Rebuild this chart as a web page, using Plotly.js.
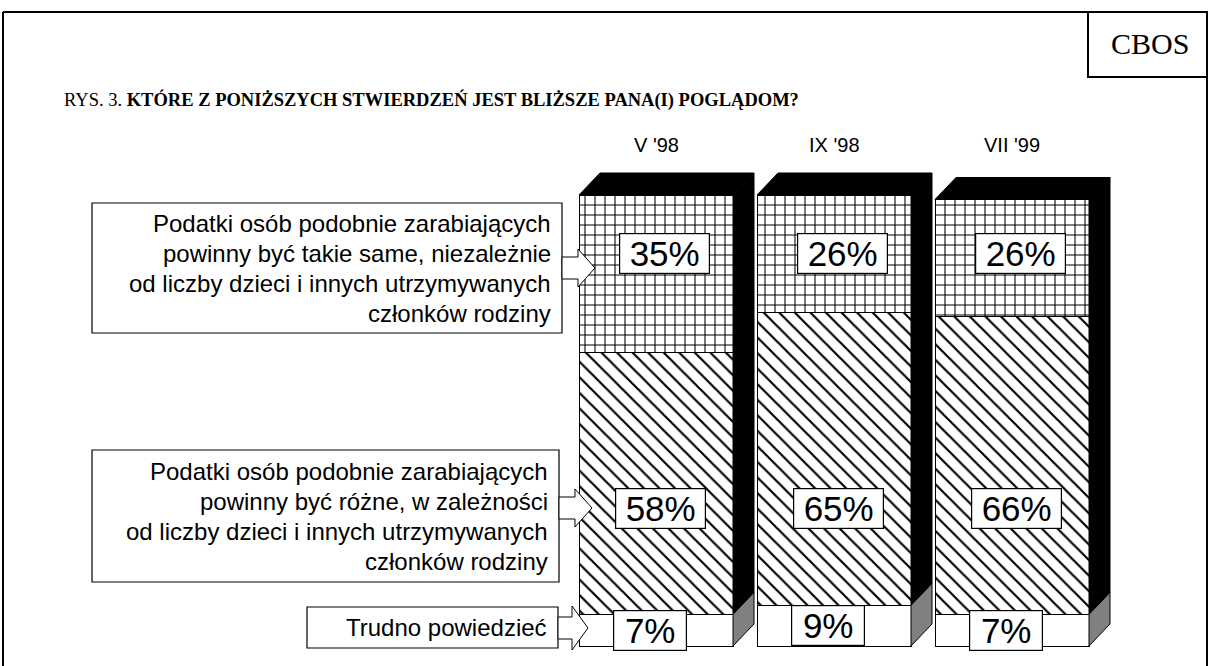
<!DOCTYPE html>
<html><head><meta charset="utf-8">
<script src="https://cdn.plot.ly/plotly-3.0.1.min.js"></script>
<style>html,body{margin:0;padding:0;background:#fff}#chart{width:1208px;height:666px}</style>
</head><body><div id="chart"></div>
<script>
// ---------- data ----------
const categories = ["V '98", "IX '98", "VII '99"];
const sameTax = [35, 26, 26];
const differentTax = [58, 65, 66];
const hardToSay = [7, 9, 7];
const seriesLabels = [
  "Podatki osób podobnie zarabiających<br>powinny być takie same, niezależnie<br>od liczby dzieci i innych utrzymywanych<br>członków rodziny",
  "Podatki osób podobnie zarabiających<br>powinny być różne, w zależności<br>od liczby dzieci i innych utrzymywanych<br>członków rodziny",
  "Trudno powiedzieć"
];
const titleRegular = "RYS. 3. ";
const titleBold = "KTÓRE Z PONIŻSZYCH STWIERDZEŃ JEST BLIŻSZE PANA(I) POGLĄDOM?";
const sourceLabel = "CBOS";

// ---------- geometry (pixels) ----------
const W = 1208, H = 666;
const X0PX = 656, XUNIT = 178;
const Y0PX = 646, YUNIT = 4.51;
const xRange = [-X0PX / XUNIT, (W - X0PX) / XUNIT];
const yRange = [-(H - Y0PX) / YUNIT, Y0PX / YUNIT];
const barW = 154 / XUNIT, dX = 21 / XUNIT, dY = 22 / YUNIT;
const px = v => v / W, py = v => 1 - v / H;
const xs = categories.map((c, i) => i);

const SANS = "Liberation Sans, Arial, sans-serif";
const SERIF = "Liberation Serif, Times New Roman, serif";

const traces = [];
const barBase = { type: 'bar', x: xs, width: barW, hoverinfo: 'skip', showlegend: false };
traces.push(Object.assign({}, barBase, { y: hardToSay, name: seriesLabels[2],
  marker: { color: '#fff', line: { color: '#000', width: 1 } } }));
traces.push(Object.assign({}, barBase, { y: differentTax, name: seriesLabels[1],
  marker: { color: '#fff', line: { color: '#000', width: 1 },
    pattern: { shape: '\\', size: 11, solidity: 0.2, fgcolor: '#000', bgcolor: '#fff' } } }));
traces.push(Object.assign({}, barBase, { y: sameTax, name: seriesLabels[0],
  marker: { color: '#fff', line: { color: '#000', width: 1 },
    pattern: { shape: '+', size: 10, solidity: 0.2, fgcolor: '#000', bgcolor: '#fff' } } }));

// 3D faces computed from the data
xs.forEach(i => {
  const t = sameTax[i] + differentTax[i] + hardToSay[i];
  const b = hardToSay[i];
  const xl = i - barW / 2, xrr = i + barW / 2;
  const poly = (x, y, fill) => traces.push({ type: 'scatter', mode: 'lines', x, y, fill: 'toself',
    fillcolor: fill, line: { color: '#000', width: 1 }, hoverinfo: 'skip', showlegend: false });
  poly([xl, xl + dX, xrr + dX, xrr, xl], [t, t + dY, t + dY, t, t], '#000');
  poly([xrr, xrr + dX, xrr + dX, xrr, xrr], [b, b + dY, t + dY, t, b], '#000');
  poly([xrr, xrr + dX, xrr + dX, xrr, xrr], [0, dY, b + dY, b, 0], '#808080');
});

const annotations = [];
// value labels
const topLabelY = (Y0PX - 253) / YUNIT, midLabelY = (Y0PX - 508) / YUNIT;
const valueLabel = (x, y, v, xshift) => annotations.push({
  x, y, xref: 'x', yref: 'y', xanchor: 'center', yanchor: 'middle', text: v + '%', showarrow: false, xshift,
  font: { family: SANS, size: 35, color: '#000' }, bgcolor: '#fff', bordercolor: '#000',
  borderwidth: 1.2, borderpad: 1, width: 53 + 17 * String(v).length, height: 37
});
xs.forEach(i => {
  valueLabel(i, topLabelY, sameTax[i], 8);
  valueLabel(i, midLabelY, differentTax[i], 4);
  valueLabel(i, Math.max(hardToSay[i] / 2, 3.2), hardToSay[i], -6);
});
// category labels
xs.forEach(i => annotations.push({ x: i, y: py(145), xref: 'x', yref: 'paper', xanchor: 'center', yanchor: 'middle',
  text: categories[i], showarrow: false, font: { family: SANS, size: 20, color: '#000' } }));

// series label boxes: rectangle + right-aligned text lines
const boxes = [
  { l: 92, r: 562, t: 203, b: 333 },
  { l: 92, r: 559, t: 450, b: 582 },
  { l: 307, r: 558, t: 607, b: 648 }
];
const shapes = [];
boxes.forEach((bx, k) => {
  shapes.push({ type: 'rect', xref: 'paper', yref: 'paper', layer: 'above', x0: px(bx.l), x1: px(bx.r),
    y0: py(bx.t), y1: py(bx.b), fillcolor: '#fff', line: { color: '#000', width: 1.2 } });
  const lines = seriesLabels[k].split('<br>');
  const mid = (bx.t + bx.b) / 2;
  lines.forEach((ln, j) => annotations.push({
    x: px(bx.r - 9), y: py(mid + (j - (lines.length - 1) / 2) * 30), xref: 'paper', yref: 'paper',
    xanchor: 'right', yanchor: 'middle', text: ln, showarrow: false,
    font: { family: SANS, size: 24, color: '#000' }
  }));
});
// title & source
annotations.push({ x: px(62), y: py(100), xref: 'paper', yref: 'paper', xanchor: 'left', yanchor: 'middle',
  text: titleRegular + '<b>' + titleBold + '</b>', showarrow: false, font: { family: SERIF, size: 18.5, color: '#000' } });
annotations.push({ x: px(1150), y: py(44), xref: 'paper', yref: 'paper', xanchor: 'center', yanchor: 'middle',
  text: sourceLabel, showarrow: false, font: { family: SERIF, size: 30, color: '#000' } });

// block arrows (decoration)
const arrow = (x0, neck, tip, yc, sh, hh) => {
  const P = (a, b) => px(a).toFixed(5) + ',' + py(b).toFixed(5);
  return { type: 'path', xref: 'paper', yref: 'paper', layer: 'above',
    path: 'M' + P(x0, yc - sh) + 'L' + P(neck, yc - sh) + 'L' + P(neck, yc - hh) + 'L' + P(tip, yc) +
      'L' + P(neck, yc + hh) + 'L' + P(neck, yc + sh) + 'L' + P(x0, yc + sh) + 'Z',
    fillcolor: '#fff', line: { color: '#000', width: 1 } };
};
shapes.push(
  arrow(562, 578, 595, 268, 11, 19),
  arrow(559, 575, 592, 508, 11, 19),
  arrow(558, 572, 588, 628, 11, 22),
  { type: 'line', xref: 'paper', yref: 'paper', x0: px(3), x1: px(1207), y0: py(12), y1: py(12), line: { color: '#000', width: 2 } },
  { type: 'line', xref: 'paper', yref: 'paper', x0: px(3), x1: px(3), y0: py(12), y1: 0, line: { color: '#000', width: 2 } },
  { type: 'line', xref: 'paper', yref: 'paper', x0: px(1207), x1: px(1207), y0: py(12), y1: 0, line: { color: '#000', width: 2 } },
  { type: 'rect', xref: 'paper', yref: 'paper', x0: px(1088), x1: px(1207), y0: py(12), y1: py(77), line: { color: '#000', width: 2 } }
);

const layout = {
  width: W, height: H, margin: { l: 0, r: 0, t: 0, b: 0 },
  paper_bgcolor: '#fff', plot_bgcolor: '#fff', barmode: 'stack', showlegend: false,
  xaxis: { range: xRange, visible: false, fixedrange: true },
  yaxis: { range: yRange, visible: false, fixedrange: true },
  annotations, shapes
};
Plotly.newPlot('chart', traces, layout, { staticPlot: true, displayModeBar: false });
</script></body></html>
